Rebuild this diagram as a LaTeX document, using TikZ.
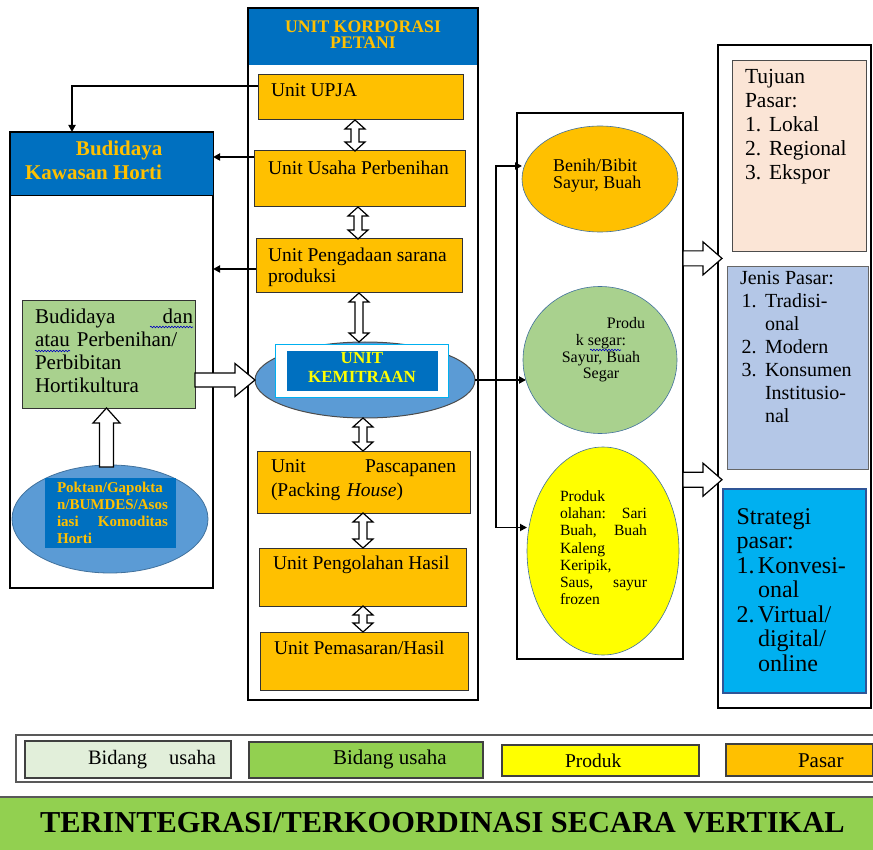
\documentclass[tikz,border=0pt]{standalone}
\usepackage{fontspec}
\setmainfont{Liberation Serif}
\usetikzlibrary{shapes.geometric,calc,arrows.meta,decorations.pathmorphing}

\definecolor{hdrblue}{HTML}{0070C0}
\definecolor{gold}{HTML}{FFC000}
\definecolor{unitorange}{HTML}{FFC000}
\definecolor{leafgreen}{HTML}{A9D18E}
\definecolor{skyblue}{HTML}{5B9BD5}
\definecolor{skyedge}{HTML}{41719C}
\definecolor{peach}{HTML}{FBE5D6}
\definecolor{lavender}{HTML}{B4C7E7}
\definecolor{cyanbox}{HTML}{00B0F0}
\definecolor{navyedge}{HTML}{2F5597}
\definecolor{lightgreen}{HTML}{E2EFDA}
\definecolor{limegreen}{HTML}{92D050}
\definecolor{brightyellow}{HTML}{FFFF00}
\definecolor{framegray}{HTML}{595959}

\newcommand\fs[2]{\fontsize{#1}{#2}\selectfont}

% hollow arrow pointing right: start, end, half shaft, half head, head length
\newcommand\hollowright[5]{%
  \draw[hollow] let \p1=(#1), \p2=(#2) in
    (\x1,\y1+#3) -- (\x2-#5,\y1+#3) -- (\x2-#5,\y1+#4) -- (\x2,\y1)
    -- (\x2-#5,\y1-#4) -- (\x2-#5,\y1-#3) -- (\x1,\y1-#3) -- cycle;}
% hollow arrow pointing up: bottom point, top point
\newcommand\hollowup[2]{%
  \draw[hollow] let \p1=(#1), \p2=(#2) in
    (\x1-7pt,\y1) -- (\x1-7pt,\y2-15pt) -- (\x1-13.5pt,\y2-15pt) -- (\x1,\y2)
    -- (\x1+13.5pt,\y2-15pt) -- (\x1+7pt,\y2-15pt) -- (\x1+7pt,\y1) -- cycle;}
% hollow double arrow between an upper and a lower point
\newcommand\hollowupdown[2]{%
  \draw[hollow] let \p1=(#1), \p2=(#2) in
    (\x1,\y1) -- (\x1+10pt,\y1-9pt) -- (\x1+4pt,\y1-9pt) -- (\x1+4pt,\y2+9pt)
    -- (\x1+10pt,\y2+9pt) -- (\x1,\y2) -- (\x1-10pt,\y2+9pt) -- (\x1-4pt,\y2+9pt)
    -- (\x1-4pt,\y1-9pt) -- (\x1-10pt,\y1-9pt) -- cycle;}

\begin{document}
\begin{tikzpicture}[x=1pt,y=-1pt,
  rect/.style={draw, anchor=north west, inner sep=0pt, outer sep=0pt},
  frame/.style={rect, line width=2.2pt},
  unit/.style={rect, fill=unitorange, line width=1pt, draw=black!80},
  oval/.style={ellipse, inner sep=0pt, outer sep=0pt},
  txt/.style={anchor=north west, inner sep=0pt, outer sep=0pt, align=left,
              execute at begin node=\strut},
  ctxt/.style={anchor=north, inner sep=0pt, outer sep=0pt, align=center,
              execute at begin node=\strut},
  btxt/.style={anchor=base west, inner sep=0pt, outer sep=0pt},
  unitfont/.style={font=\fs{19.5}{21}},
  conn/.style={line width=1.8pt, -{Triangle[length=7pt,width=7pt]}},
  hollow/.style={draw, line width=1.2pt, fill=white, line join=miter},
  squiggle/.style={draw=blue!75!black, line width=0.6pt, decorate,
                   decoration={snake, amplitude=0.8pt, segment length=3pt}}
]
\useasboundingbox (0,0) rectangle (873,850);

% ---------- left column: cultivation area ----------
\node[frame, minimum width=203pt, minimum height=456pt] (leftbox) at (10,132) {};
\node[rect, fill=hdrblue, draw=black, line width=1pt, minimum width=203pt,
      minimum height=63pt] (lhead) at (10,133) {};
\node[txt, font=\bfseries\fs{21}{24}, text=gold] (lheadT) at (25,141)
  {\hspace*{51pt}Budidaya\\Kawasan Horti};

\node[rect, fill=leafgreen, draw=black!80, line width=1pt, minimum width=173pt,
      minimum height=107pt] (budi) at (22,301) {};
\node[txt, font=\fs{21}{23}, text width=158pt] (budiT) at (35,307)
  {Budidaya\hfill dan\\atau Perbenihan/\\Perbibitan\\Hortikultura};
\draw[squiggle] (150,327) -- (193,327);
\draw[squiggle] (35,351) -- (70,351);

\node[oval, fill=skyblue, draw=skyedge, line width=0.8pt, minimum width=196pt,
      minimum height=108pt] (pokt) at (110,519) {};
\node[rect, fill=hdrblue, draw=none, minimum width=131pt, minimum height=70pt]
  (poktin) at (45,478) {};
\node[txt, font=\bfseries\fs{15}{17}, text=gold, text width=111pt] (poktT) at (57,481)
  {Poktan/Gapokta\\n/BUMDES/Asos\\iasi\hfill Komoditas\\Horti};

% ---------- centre column: farmer corporation units ----------
\node[frame, minimum width=230pt, minimum height=692pt] (cbox) at (248,8) {};
\node[rect, fill=hdrblue, draw=none, minimum width=228pt, minimum height=56pt]
  (chead) at (249,9) {};
\node[ctxt, font=\bfseries\fs{17.7}{16}, text=gold] (cheadT) at (363,20.8)
  {UNIT KORPORASI\\PETANI};

\node[unit, minimum width=205pt, minimum height=45pt] (upja) at (258,75) {};
\node[txt, unitfont] (upjaT) at (271,82.3) {Unit UPJA};
\node[unit, minimum width=211pt, minimum height=56pt] (perb) at (254,151) {};
\node[txt, unitfont] (perbT) at (268,160.3) {Unit Usaha Perbenihan};
\node[unit, minimum width=206pt, minimum height=54pt] (pengad) at (256,239) {};
\node[txt, unitfont] (pengadT) at (268,248.3) {Unit Pengadaan sarana\\produksi};

\node[oval, fill=skyblue, draw=black!70, line width=1pt, minimum width=220pt,
      minimum height=76pt] (kem) at (365,380) {};
\node[rect, fill=white, draw=cyanbox, line width=1pt, minimum width=173pt,
      minimum height=52pt] (kemframe) at (275,345) {};
\node[rect, fill=hdrblue, draw=none, minimum width=151pt, minimum height=40pt]
  (kemin) at (287,351) {};
\node[ctxt, font=\bfseries\fs{17}{19}, text=brightyellow] (kemT) at (362,352.7)
  {UNIT\\KEMITRAAN};

\node[unit, minimum width=213pt, minimum height=62pt] (pasca) at (257,451) {};
\node[txt, font=\fs{19.5}{24}, text width=185pt] (pascaT) at (271,455.2)
  {Unit\hfill Pascapanen\\(Packing \textit{House})};
\node[unit, minimum width=207pt, minimum height=58pt] (pengol) at (259,548) {};
\node[txt, unitfont] (pengolT) at (273,554.3) {Unit Pengolahan Hasil};
\node[unit, minimum width=208pt, minimum height=58pt] (pemas) at (260,632) {};
\node[txt, unitfont] (pemasT) at (274,639.3) {Unit Pemasaran/Hasil};

\hollowupdown{$(upja.south)+(-5.5,0)$}{perb.north}
\hollowupdown{$(perb.south)+(-1.5,0)$}{pengad.north}
\hollowupdown{$(pengad.south)+(0,0)$}{kem.north}
\hollowupdown{$(kem.south)+(-2,0)$}{pasca.north}
\hollowupdown{$(pasca.south)+(-0.5,0)$}{pengol.north}
\hollowupdown{$(pengol.south)+(0.5,0)$}{pemas.north}

% ---------- product column ----------
\node[frame, minimum width=166pt, minimum height=546pt] (pbox) at (517,113) {};
\node[oval, fill=unitorange, draw=skyedge, line width=0.6pt, minimum width=156pt,
      minimum height=106pt] (benih) at (600,179) {};
\node[txt, font=\fs{18}{16.4}] (benihT) at (553,159.5) {Benih/Bibit\\Sayur, Buah};
\node[oval, fill=leafgreen, draw=skyedge, line width=0.6pt, minimum width=154pt,
      minimum height=147pt] (segar) at (600,360) {};
\node[ctxt, font=\fs{16}{16.6}] (segarT) at (601,317.7)
  {\hspace*{50pt}Produ\\k segar:\\Sayur, Buah\\Segar};
\draw[squiggle] (590,350) -- (621,350);
\node[oval, fill=brightyellow, draw=skyedge, line width=0.6pt, minimum width=152pt,
      minimum height=208pt] (olah) at (603,551) {};
\node[txt, font=\fs{15.6}{17.2}, text width=87pt] (olahT) at (560,489.5)
  {Produk\\olahan:\hfill Sari\\Buah,\hfill Buah\\Kaleng\\Keripik,\\Saus,\hfill sayur\\frozen};

% ---------- market column ----------
\node[frame, minimum width=153pt, minimum height=663pt] (rbox) at (718,45) {};
\node[rect, fill=peach, draw=black!70, line width=1pt, minimum width=134pt,
      minimum height=191pt] (tujuan) at (732,61) {};
\node[txt, font=\fs{21.5}{24}] (tujuanT) at (745,69.6)
  {Tujuan\\Pasar:\\\makebox[24pt][l]{1.}Lokal\\\makebox[24pt][l]{2.}Regional\\\makebox[24pt][l]{3.}Ekspor};
\node[rect, fill=lavender, draw=black!60, line width=1pt, minimum width=141pt,
      minimum height=202pt] (jenis) at (727,267) {};
\node[txt, font=\fs{20}{23}] (jenisT) at (740,270.9)
  {Jenis Pasar:\\\hspace*{1.5pt}\makebox[23.5pt][l]{1.}Tradisi-\\\hspace*{25pt}onal\\\hspace*{1.5pt}\makebox[23.5pt][l]{2.}Modern\\\hspace*{1.5pt}\makebox[23.5pt][l]{3.}Konsumen\\\hspace*{25pt}Institusio-\\\hspace*{25pt}nal};
\node[rect, fill=cyanbox, draw=navyedge, line width=2pt, minimum width=143pt,
      minimum height=204pt] (strat) at (723,488.5) {};
\node[txt, font=\fs{24}{24.5}] (stratT) at (736.5,508.3)
  {Strategi\\pasar:\\\makebox[21.5pt][l]{1.}Konvesi-\\\hspace*{21.5pt}onal\\\makebox[21.5pt][l]{2.}Virtual/\\\hspace*{21.5pt}digital/\\\hspace*{21.5pt}online};

% ---------- connectors ----------
\coordinate (c1) at ([yshift=-11pt]upja.north west);
\draw[conn] (c1) -| ($(leftbox.north west)+(62,0)$);
\coordinate (c2) at ([yshift=-6pt]perb.north west);
\draw[conn] (c2) -- (c2 -| lhead.east);
\coordinate (c3) at ([yshift=-3pt]pengad.west);
\draw[conn] (c3) -- (c3 -| leftbox.east);

\hollowup{$(pokt.north)+(-3.5,2)$}{budi.south}
\hollowright{budi.east |- kem.west}{kem.west}{7pt}{16.5pt}{20pt}

\draw[conn] (kem.east) -- ($(kem.east -| segar.west)+(3,0)$);
\coordinate (jn) at ($(kem.east)+(21,0)$);
\draw[conn] (jn) |- ([yshift=13pt]benih.west);
\draw[conn] (jn) |- ([yshift=23.5pt]olah.west);

\hollowright{$(pbox.north east)+(0,145.4)$}{$(rbox.west)+(4,0)$}{7.5pt}{16.5pt}{19pt}
\hollowright{$(pbox.north east)+(0,366.7)$}{$(rbox.west)+(4,0)$}{7.5pt}{16.5pt}{19pt}

% ---------- legend ----------
\node[rect, draw=framegray, line width=1.5pt, minimum width=860pt,
      minimum height=47pt] (legend) at (16,735) {};
\node[rect, fill=lightgreen, draw=black!75, line width=1.2pt, minimum width=206pt,
      minimum height=37pt] (lg1) at (25,741) {};
\node[btxt, font=\fs{20.5}{22}] (lg1T) at (88,764) {Bidang\hspace{22pt}usaha};
\node[rect, fill=limegreen, draw=black!75, line width=1.2pt, minimum width=234pt,
      minimum height=36pt] (lg2) at (249,742) {};
\node[btxt, font=\fs{21}{22}] (lg2T) at (333,764) {Bidang usaha};
\node[rect, fill=brightyellow, draw=black!75, line width=1.2pt, minimum width=197pt,
      minimum height=31pt] (lg3) at (502,745) {};
\node[btxt, font=\fs{19.5}{22}] (lg3T) at (565,767) {Produk};
\node[rect, fill=unitorange, draw=black!75, line width=1.2pt, minimum width=147pt,
      minimum height=32pt] (lg4) at (726,744) {};
\node[btxt, font=\fs{21}{22}] (lg4T) at (798,767) {Pasar};

% ---------- banner ----------
\node[rect, fill=limegreen, draw=none, minimum width=873pt, minimum height=53pt]
  (banner) at (0,797) {};
\draw[framegray, line width=1.5pt] (banner.north west) -- (banner.north east);
\node[btxt, font=\bfseries\fs{30.4}{33}] (bannerT) at (40,832)
  {TERINTEGRASI/TERKOORDINASI SECARA VERTIKAL};
\end{tikzpicture}
\end{document}
